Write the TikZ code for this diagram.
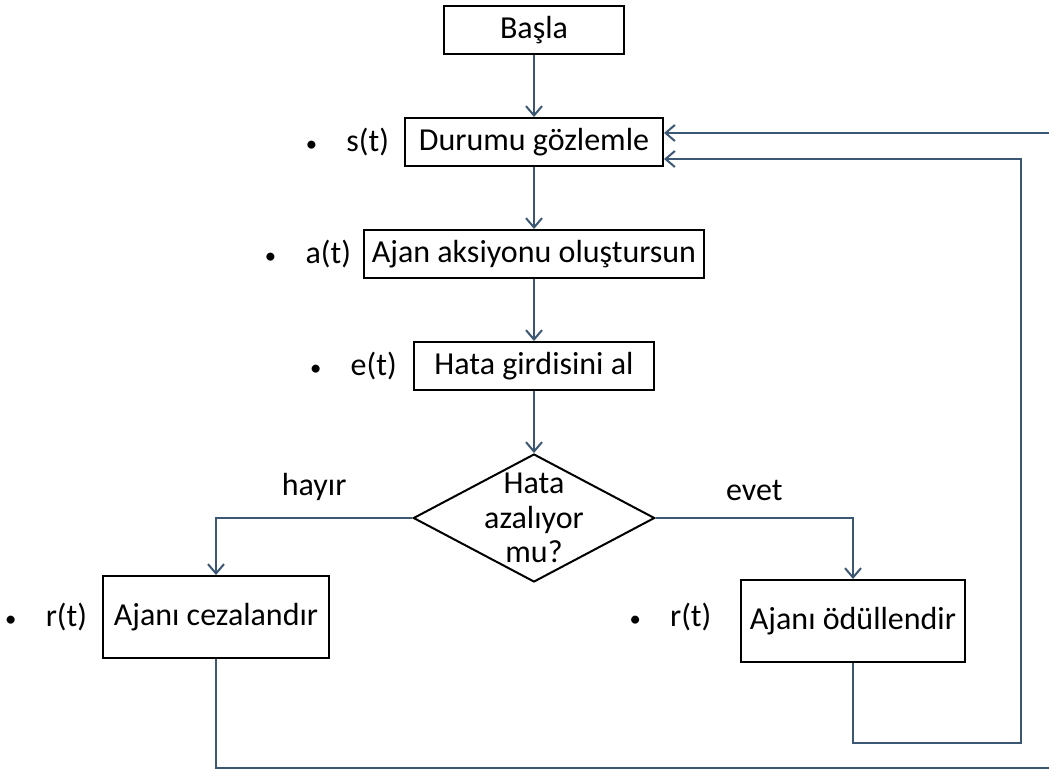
\documentclass[tikz,border=0pt]{standalone}
\usepackage{fontspec}
\setmainfont{Carlito}
\usetikzlibrary{arrows.meta, positioning, shapes.geometric}
\definecolor{cok}{RGB}{59,87,115}
\newcommand{\madde}{{\fontsize{17}{17}\selectfont\textbullet}\hspace{22pt}}

\begin{document}
\begin{tikzpicture}[
  x=0.75pt, y=-0.75pt,
  font=\fontsize{24}{26}\selectfont,
  kutu/.style={draw=black, line width=1.5pt, minimum height=36pt, inner sep=2pt},
  karar/.style={diamond, draw=black, line width=1.5pt, minimum width=181pt,
    minimum height=96pt, inner sep=0pt},
  etiket/.style={inner sep=0pt},
  ok/.style={draw=cok, line width=1.5pt, -{Straight Barb[length=7pt, width=12pt]}},
  node distance=46.5pt,
]
\useasboundingbox (0,0) rectangle (1049,772);

% ana akis
\node[kutu, minimum width=135.5pt] (basla) at (534,30) {Başla};
\node[kutu, minimum width=193.5pt, below=of basla] (durum) {Durumu gözlemle};
\node[kutu, minimum width=254.5pt, below=of durum] (ajan) {Ajan aksiyonu oluştursun};
\node[kutu, minimum width=180pt, below=of ajan] (girdi) {Hata girdisini al};
\node[karar, below=of girdi] (karar) {};
\node[align=center] (kararyazi) at (karar) {Hata\\azalıyor\\mu?};

% dallar
\node[kutu, minimum width=169.5pt, minimum height=61.5pt] (ceza) at (216,617) {Ajanı cezalandır};
\node[kutu, minimum width=168.5pt, minimum height=61.5pt] (odul) at (853,621) {Ajanı ödüllendir};

% degiskenler
\node[etiket, left=11pt of durum] (slab) {\madde s(t)};
\node[etiket, left=9pt of ajan] (alab) {\madde a(t)};
\node[etiket, left=12pt of girdi] (elab) {\madde e(t)};
\node[etiket, left=11pt of ceza] (rlab1) {\madde r(t)};
\node[etiket, left=21pt of odul, yshift=3pt] (rlab2) {\madde r(t)};

\coordinate (sagic) at (1021,743);
\coordinate (disalt) at (1060,768);

\draw[ok] (basla) -- (durum);
\draw[ok] (durum) -- (ajan);
\draw[ok] (ajan) -- (girdi);
\draw[ok] (girdi) -- (karar);
\draw[ok] (karar.west) -| node[pos=0.25, above=9pt] (hayir) {hayır} (ceza);
\draw[ok] (karar.east) -| node[pos=0.25, above=9pt] (evet) {evet} (odul);

% geri donusler
\draw[ok] (odul.south) |- (sagic) |- ([yshift=-12.75pt]durum.east);
\draw[ok] (ceza.south) |- (disalt) |- ([yshift=6.75pt]durum.east);
\end{tikzpicture}
\end{document}
